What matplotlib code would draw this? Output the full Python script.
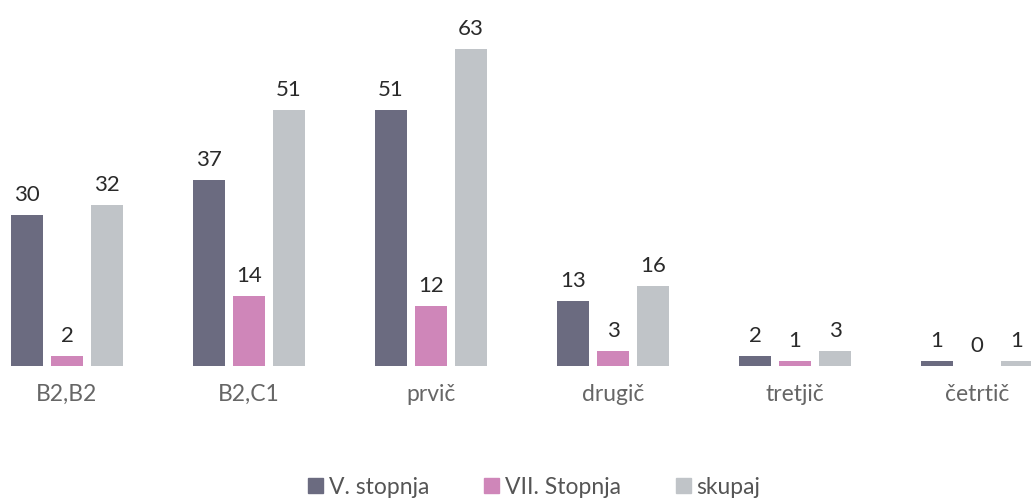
import numpy as np
import matplotlib
matplotlib.use('Agg')
import matplotlib.pyplot as plt
from matplotlib.patches import Patch

categories = ["B2,B2", "B2,C1", "prvič", "drugič", "tretjič", "četrtič"]
series_names = ["V. stopnja", "VII. Stopnja", "skupaj"]
v_stopnja = [30, 37, 51, 13, 2, 1]
vii_stopnja = [2, 14, 12, 3, 1, 0]
skupaj = [32, 51, 63, 16, 3, 1]

colors = ["#6b6b80", "#cf86b9", "#c0c4c8"]

plt.rcParams['font.family'] = ['Lato', 'DejaVu Sans']

fig = plt.figure(figsize=(10.31, 4.98), dpi=100)
ax = fig.add_axes([0, 132/498, 1, 352/498])

x = np.arange(len(categories))
w = 32/182
off = 40/182
for i, (vals, col) in enumerate(zip([v_stopnja, vii_stopnja, skupaj], colors)):
    pos = x + (i - 1)*off
    ax.bar(pos, vals, width=w, color=col, label=series_names[i])
    for p, v in zip(pos, vals):
        ax.annotate(str(v), (p, v), xytext=(0, 7), textcoords='offset points',
                    ha='center', va='bottom', fontsize=16, color='#2a2a2a')

ax.set_xlim(-67/182, (1031-67)/182)
ax.set_ylim(0, 70)
ax.set_xticks(x)
ax.set_xticklabels(categories, fontsize=16.5, color='#666666')
ax.tick_params(axis='x', length=0, pad=13)
ax.set_yticks([])
for s in ax.spines.values():
    s.set_visible(False)

handles = [Patch(color=c) for c in colors]
fig.legend(handles, series_names, loc='center', bbox_to_anchor=(0.518, 1 - 487/498),
           ncol=3, frameon=False, fontsize=16.5, handlelength=0.65, handleheight=0.65,
           handletextpad=0.25, columnspacing=2.4, labelcolor='#555555')

fig.savefig('out.png', dpi=100)
